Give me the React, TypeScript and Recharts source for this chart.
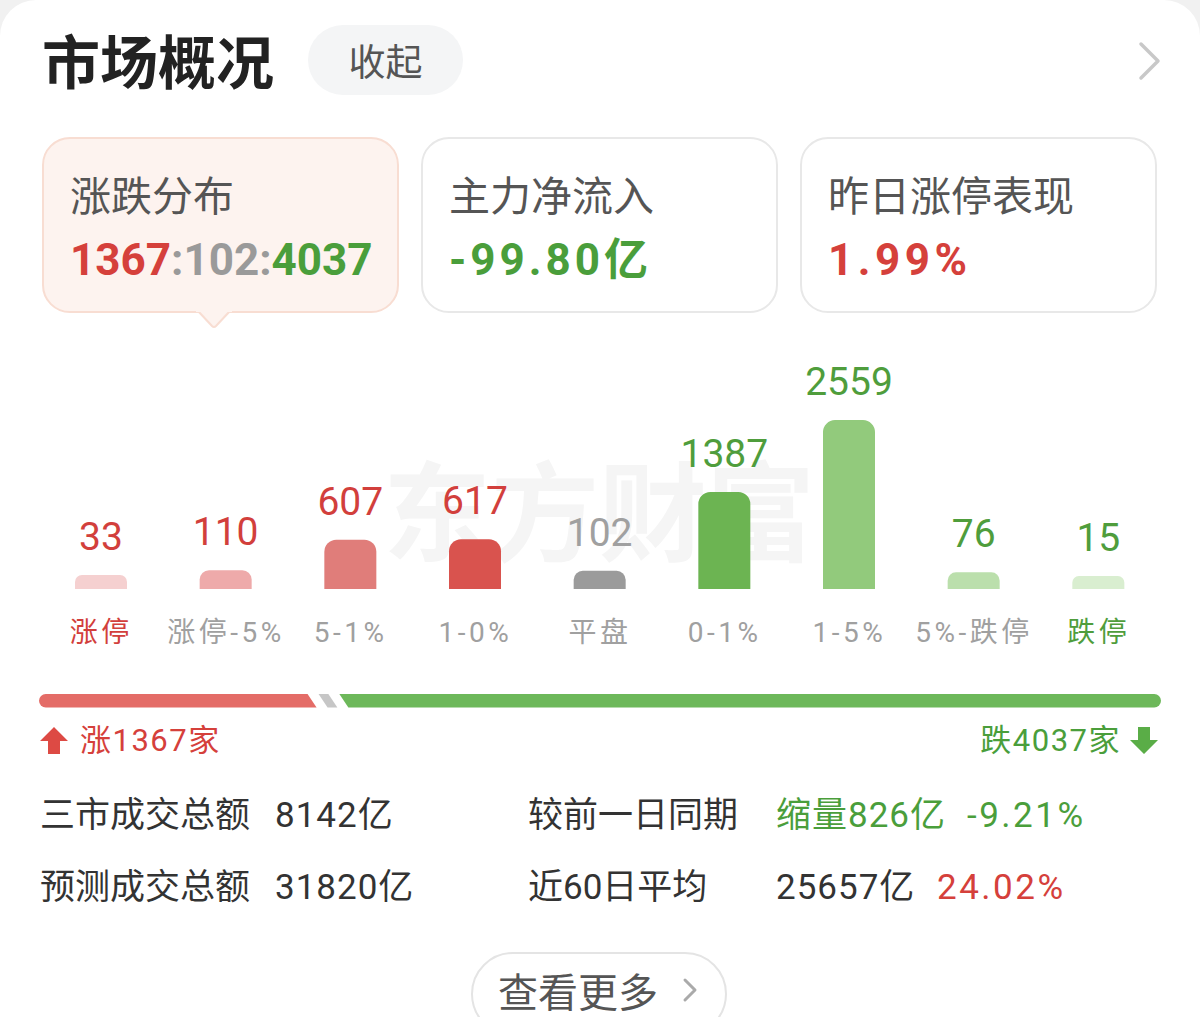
import React from 'react';
import { BarChart, Bar, XAxis, YAxis, Cell, LabelList } from 'recharts';

// ---- data ----
const categories = ['涨停', '涨停-5%', '5-1%', '1-0%', '平盘', '0-1%', '1-5%', '5%-跌停', '跌停'];
const counts = [33, 110, 607, 617, 102, 1387, 2559, 76, 15];
const barColors = ['#f5d0d0', '#eeaaaa', '#e07d7a', '#d9534e', '#9b9b9b', '#6cb452', '#92ca7c', '#bbdfac', '#d9eed0'];
const valueColors = ['#d23f3c', '#d23f3c', '#d23f3c', '#d23f3c', '#a0a0a0', '#4f9d3c', '#4f9d3c', '#4f9d3c', '#4f9d3c'];
const tickColors = ['#d23f3c', '#a0a0a0', '#a0a0a0', '#a0a0a0', '#a0a0a0', '#a0a0a0', '#a0a0a0', '#a0a0a0', '#4f9d3c'];
const BAR_BASE = -196;
const Y_MAX = 3866;

const breadthKeys = ['up', 'flat', 'down'];
const breadthValues = [1367, 102, 4037];
const breadthColors = ['#e46c67', '#c6c6c6', '#6db85a'];

const cardTitles = ['涨跌分布', '主力净流入', '昨日涨停表现'];
const netInflow = '-99.80亿';
const limitUpPerf = '1.99%';

const statLabelsLeft = ['三市成交总额', '预测成交总额'];
const statValuesLeft = ['8142亿', '31820亿'];
const statLabelsRight = ['较前一日同期', '近60日平均'];
const statValuesRight = ['缩量826亿', '25657亿'];
const statPctRight = ['-9.21%', '24.02%'];

const RED = '#d5403b';
const GREEN = '#4a9e3b';
const GRAY = '#9a9a9a';
const CJK = "'Noto Sans CJK SC', 'Noto Sans', sans-serif";
const NUM = "Roboto, 'Noto Sans CJK SC', sans-serif";

const chartData = categories.map((c, i) => ({ name: c, value: counts[i] }));
const breadthRow = [
  breadthKeys.reduce((o: any, k, i) => { o[k] = breadthValues[i]; return o; }, { name: 'breadth' }),
];
const breadthTotal = breadthValues.reduce((a, b) => a + b, 0);

const abs = (left: number, top: number, extra: any = {}) => ({ position: 'absolute' as const, left, top, ...extra });

const ValueLabel = (props: any) => {
  const { x, y, width, height, value, index } = props;
  const top = Math.min(y, y + height);
  return (
    <text x={x + width / 2} y={top - 25} textAnchor="middle" fill={valueColors[index]}
      style={{ fontFamily: NUM, fontSize: 39 }}>
      {value}
    </text>
  );
};

const CatTick = (props: any) => {
  const { x, y, payload, index } = props;
  return (
    <text x={x} y={y + 51} textAnchor="middle" fill={tickColors[index]}
      style={{ fontFamily: NUM, fontSize: 28, letterSpacing: 3.5 }}>
      {payload.value}
    </text>
  );
};

const G = 5.5; // half gap
const S = 4.5; // slant half
const RedSeg = (p: any) => {
  const { x, y, width: w, height: h } = p;
  const r = h / 2;
  const xb = x + w - G;
  return <path d={`M${x + r},${y} L${xb - S},${y} L${xb + S},${y + h} L${x + r},${y + h} A${r},${r} 0 0 1 ${x + r},${y} Z`} fill={breadthColors[0]} />;
};
const GraySeg = (p: any) => {
  const { x, y, width: w, height: h } = p;
  const a = x + G, b = x + w - G;
  return <path d={`M${a - S},${y} L${b - S},${y} L${b + S},${y + h} L${a + S},${y + h} Z`} fill={breadthColors[1]} />;
};
const GreenSeg = (p: any) => {
  const { x, y, width: w, height: h } = p;
  const r = h / 2;
  const a = x + G;
  const e = x + w - r;
  return <path d={`M${a - S},${y} L${e},${y} A${r},${r} 0 0 1 ${e},${y + h} L${a + S},${y + h} Z`} fill={breadthColors[2]} />;
};

const Card = ({ left, title, children, active, spacing = 0 }: any) => (
  <div style={abs(left, 137, {
    width: 357, height: 176, boxSizing: 'border-box', borderRadius: 28,
    background: active ? '#fdf3ef' : '#ffffff',
    border: `2px solid ${active ? '#f8ddd2' : '#e8e8e8'}`,
  })}>
    <div style={abs(26, 34, { fontFamily: CJK, fontSize: 41, lineHeight: 1, color: '#555', whiteSpace: 'nowrap' })}>{title}</div>
    <div style={abs(26, 99, { fontFamily: NUM, fontSize: 44, fontWeight: 700, lineHeight: 1, whiteSpace: 'nowrap', letterSpacing: spacing })}>{children}</div>
  </div>
);

export default function App() {
  return (
    <div style={{ position: 'relative', width: 1200, height: 1017, background: '#f1f1f1', overflow: 'hidden', fontFamily: CJK }}>
      <style>{'body{margin:0}'}</style>
      <div style={abs(0, 0, { width: 1200, height: 1017, background: '#fff', borderTopLeftRadius: 36, borderTopRightRadius: 36 })} />

      {/* header */}
      <div style={abs(42, 30, { fontSize: 58, fontWeight: 700, lineHeight: 1, color: '#222' })}>市场概况</div>
      <div style={abs(308, 25, {
        width: 155, height: 70, borderRadius: 35, background: '#f4f5f6', display: 'flex',
        alignItems: 'center', justifyContent: 'center', fontSize: 37, color: '#555', lineHeight: 1,
      })}>收起</div>
      <svg style={abs(1130, 36)} width={40} height={50}>
        <polyline points="11,8 28,25 11,42" fill="none" stroke="#c8c8c8" strokeWidth={3.5} strokeLinecap="round" strokeLinejoin="round" />
      </svg>

      {/* cards */}
      <Card left={42} title={cardTitles[0]} active>
        <span style={{ color: RED }}>{breadthValues[0]}</span>
        <span style={{ color: GRAY }}>:{breadthValues[1]}:</span>
        <span style={{ color: GREEN }}>{breadthValues[2]}</span>
      </Card>
      <svg style={abs(196, 309)} width={36} height={22}>
        <path d="M2,2 L16,17 Q18,19 20,17 L34,2" fill="#fdf3ef" stroke="#f8ddd2" strokeWidth={2} />
        <rect x={0} y={0} width={36} height={3} fill="#fdf3ef" />
      </svg>
      <Card left={421} title={cardTitles[1]} spacing={4}>
        <span style={{ color: GREEN }}>{netInflow}</span>
      </Card>
      <Card left={800} title={cardTitles[2]} spacing={4.5}>
        <span style={{ color: RED }}>{limitUpPerf}</span>
      </Card>

      {/* watermark */}
      <div style={abs(383, 452, { fontSize: 108, fontWeight: 700, color: '#f5f5f5', lineHeight: 1, whiteSpace: 'nowrap' })}>东方财富</div>

      {/* distribution bar chart */}
      <div style={abs(0, 340)}>
        <BarChart width={1200} height={320} data={chartData} margin={{ top: 0, right: 39, bottom: 0, left: 39 }}>
          <XAxis dataKey="name" height={71} axisLine={false} tickLine={false} tickSize={0} interval={0} tick={<CatTick />} />
          <YAxis hide type="number" domain={[BAR_BASE, Y_MAX]} allowDataOverflow />
          <Bar dataKey={(d: any) => [BAR_BASE, d.value]} barSize={52} radius={[12, 12, 0, 0]} isAnimationActive={false}>
            {chartData.map((d, i) => <Cell key={d.name} fill={barColors[i]} />)}
            <LabelList dataKey="value" content={<ValueLabel />} />
          </Bar>
        </BarChart>
      </div>

      {/* breadth bar */}
      <div style={abs(0, 693)}>
        <BarChart width={1200} height={15} data={breadthRow} layout="vertical" margin={{ top: 0, right: 39, bottom: 0, left: 39 }}>
          <XAxis type="number" hide domain={[0, breadthTotal]} />
          <YAxis type="category" dataKey="name" hide />
          <Bar dataKey="up" stackId="a" barSize={15} shape={<RedSeg />} isAnimationActive={false} />
          <Bar dataKey="flat" stackId="a" barSize={15} shape={<GraySeg />} isAnimationActive={false} />
          <Bar dataKey="down" stackId="a" barSize={15} shape={<GreenSeg />} isAnimationActive={false} />
        </BarChart>
      </div>

      {/* up / down counts */}
      <svg style={abs(40, 727)} width={28} height={27}>
        <path d="M14,0 L28,14 L20,14 L20,27 L8,27 L8,14 L0,14 Z" fill="#dd4a44" />
      </svg>
      <div style={abs(80, 725, { fontSize: 31, lineHeight: 1, color: RED, fontFamily: NUM, whiteSpace: 'nowrap', letterSpacing: 1.5 })}>涨{breadthValues[0]}家</div>
      <div style={abs(0, 725, { width: 1121, textAlign: 'right', fontSize: 31, lineHeight: 1, color: GREEN, fontFamily: NUM, whiteSpace: 'nowrap', letterSpacing: 1.5 })}>跌{breadthValues[2]}家</div>
      <svg style={abs(1130, 727)} width={28} height={27}>
        <path d="M8,0 L20,0 L20,13 L28,13 L14,27 L0,13 L8,13 Z" fill="#5aad47" />
      </svg>

      {/* stats */}
      {[0, 1].map((i) => {
        const top = (i === 0 ? 815 : 887) - 17.5;
        const base = { fontSize: 35, lineHeight: 1, fontFamily: NUM, whiteSpace: 'nowrap' as const };
        return (
          <React.Fragment key={i}>
            <div style={abs(40, top, { ...base, color: '#333' })}>{statLabelsLeft[i]}</div>
            <div style={abs(275, top, { ...base, color: '#333', letterSpacing: 1 })}>{statValuesLeft[i]}</div>
            <div style={abs(528, top, { ...base, color: '#333' })}>{statLabelsRight[i]}</div>
            <div style={abs(776, top, { ...base, color: i === 0 ? GREEN : '#333', letterSpacing: 1 })}>{statValuesRight[i]}</div>
            <div style={abs(i === 0 ? 967 : 937, top, { ...base, color: i === 0 ? GREEN : RED, letterSpacing: 2.5 })}>{statPctRight[i]}</div>
          </React.Fragment>
        );
      })}

      {/* more button */}
      <div style={abs(471, 952, { width: 256, height: 84, boxSizing: 'border-box', borderRadius: 42, border: '2px solid #e4e4e4', background: '#fff' })} />
      <div style={abs(498, 970, { fontSize: 40, lineHeight: 1, color: '#555', whiteSpace: 'nowrap' })}>查看更多</div>
      <svg style={abs(680, 975)} width={20} height={30}>
        <polyline points="5,5 15,15 5,25" fill="none" stroke="#aaa" strokeWidth={3} strokeLinecap="round" strokeLinejoin="round" />
      </svg>
    </div>
  );
}
